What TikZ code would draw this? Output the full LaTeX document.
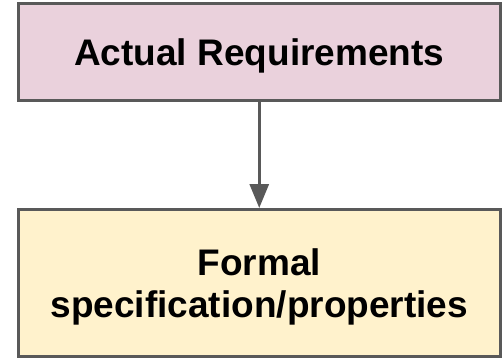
\documentclass[tikz,border=0pt]{standalone}
\usepackage{fontspec}
\setmainfont{Liberation Sans}
\usetikzlibrary{arrows.meta}
\definecolor{reqfill}{HTML}{EAD1DC}
\definecolor{specfill}{HTML}{FFF2CC}
\definecolor{edgegray}{HTML}{595959}
\tikzset{
  block/.style={draw=edgegray, line width=3pt, minimum width=482.5pt,
    inner sep=0pt, align=center,
    font=\fontsize{37}{42.5}\selectfont\bfseries},
  flow/.style={draw=edgegray, line width=3pt,
    -{Triangle[length=24pt, width=19pt]}}
}
\begin{document}
\begin{tikzpicture}[x=1pt, y=-1pt]
  \useasboundingbox (0,0) rectangle (502,358);
  % requirement box and the specification box below it
  \node[block, fill=reqfill, minimum height=97pt,
        text height=26.5pt, text depth=0pt] (req) at (259.25,52) {Actual Requirements};
  \node[block, fill=specfill, minimum height=147pt, text depth=0pt] (spec) at (259.25,283)
        {Formal\\specification/properties};
  \draw[flow] (req) -- (spec);
\end{tikzpicture}
\end{document}
